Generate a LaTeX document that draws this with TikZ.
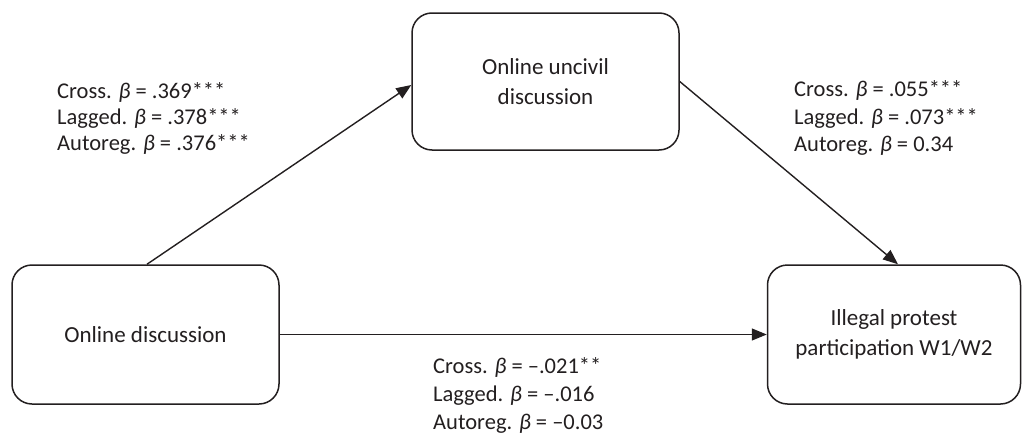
\documentclass[tikz,border=0pt]{standalone}
\usepackage{fontspec}
\setmainfont{Carlito}
\usetikzlibrary{arrows.meta,calc}
\definecolor{ink}{HTML}{231F20}
\definecolor{txt}{HTML}{231F20}
\tikzset{
  boxnode/.style={draw=ink, line width=1.5pt, rounded corners=20pt, fill=white, align=center, text=txt, font=\fontsize{23}{29.5}\selectfont},
  conn/.style={draw=ink, line width=1.4pt, -{Triangle[length=15pt,width=12pt]}},
  lbl/.style={align=left, anchor=west, text=txt, inner sep=0pt}
}
\newcommand{\bet}{{\itshape β}}
\begin{document}
\begin{tikzpicture}[x=1pt,y=-1pt]
\useasboundingbox (0,0) rectangle (1023,434);
\node[boxnode, minimum width=267pt, minimum height=139pt] (od) at (145.5,334.5) {Online discussion};
\node[boxnode, minimum width=267pt, minimum height=137pt] (ou) at (545.5,81.5) {Online uncivil\\discussion};
\node[boxnode, minimum width=253pt, minimum height=139pt] (ip) at (894,334.5) {Illegal protest\\participation W1/W2};
\draw[conn] ([xshift=1.5pt]od.north) -- ([yshift=-3.5pt]ou.west);
\draw[conn] (ou.east) -- ([xshift=4pt]ip.north);
\draw[conn] (od.east) -- (ip.west);
\node[lbl, font=\fontsize{22.5}{26}\selectfont] (l1) at (57,118) {Cross. \bet{} = .369***\\Lagged. \bet{} = .378***\\Autoreg. \bet{} = .376***};
\node[lbl, font=\fontsize{22.5}{27.5}\selectfont] (l2) at (794,118) {Cross. \bet{} = .055***\\Lagged. \bet{} = .073***\\Autoreg. \bet{} = 0.34};
\node[lbl, font=\fontsize{22.5}{28}\selectfont] (l3) at (433,395) {Cross. \bet{} = –.021**\\Lagged. \bet{} = –.016\\Autoreg. \bet{} = –0.03};
\end{tikzpicture}
\end{document}
